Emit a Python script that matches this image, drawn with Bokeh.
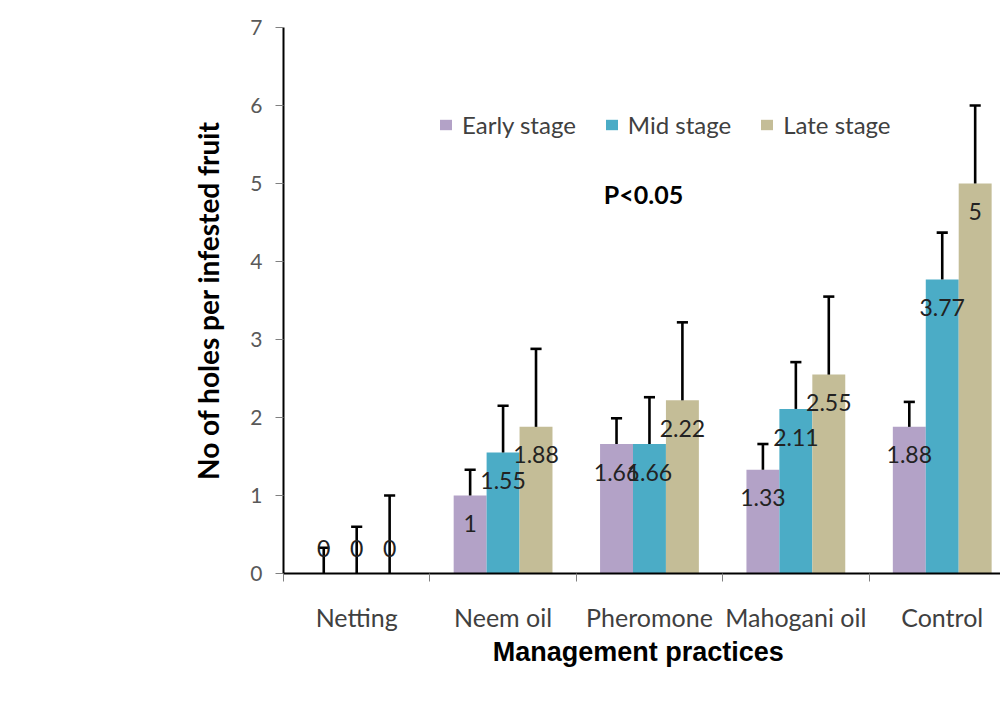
from bokeh.plotting import figure
from bokeh.models import (ColumnDataSource, FixedTicker, Label, Legend, LegendItem, Range1d)
from bokeh.embed import file_html
from bokeh.resources import INLINE
from bokeh.core.properties import value

# ---------------- data ----------------
categories = ["Netting", "Neem oil", "Pheromone", "Mahogani oil", "Control"]
series_names = ["Early stage", "Mid stage", "Late stage"]
early = [0, 1, 1.66, 1.33, 1.88]
mid = [0, 1.55, 1.66, 2.11, 3.77]
late = [0, 1.88, 2.22, 2.55, 5]
early_err = [0.33, 0.33, 0.33, 0.33, 0.32]
mid_err = [0.6, 0.6, 0.6, 0.6, 0.6]
late_err = [1.0, 1.0, 1.0, 1.0, 1.0]
colors = ["#B3A2C7", "#4BACC6", "#C4BD97"]
y_ticks = [0, 1, 2, 3, 4, 5, 6, 7]

BAR_W = 0.225
offsets = [-BAR_W, 0.0, BAR_W]

p = figure(width=1000, height=700, x_range=Range1d(-0.5, 4.398), y_range=Range1d(0, 7),
           output_backend="svg", toolbar_location=None,
           min_border_left=283, min_border_right=0, min_border_top=27, min_border_bottom=127)
p.outline_line_color = None
p.xgrid.visible = False
p.ygrid.visible = False
p.background_fill_color = "white"
p.border_fill_color = "white"

all_vals = [early, mid, late]
all_errs = [early_err, mid_err, late_err]
sources = []
for k, (vals, errs) in enumerate(zip(all_vals, all_errs)):
    xs = [i + offsets[k] for i in range(len(categories))]
    sources.append(ColumnDataSource(dict(
        x=xs, top=vals,
        etop=[v + e for v, e in zip(vals, errs)],
        cl=[x - 0.038 for x in xs], cr=[x + 0.038 for x in xs],
        ly=[(v - 0.36) if v > 0 else 0.32 for v in vals],
        lab=[format(v, "g") for v in vals],
    )))

renderers = []
for src, col in zip(sources, colors):
    r = p.vbar(x="x", top="top", width=BAR_W, bottom=0, fill_color=col, line_color=None, source=src)
    renderers.append(r)
for src in sources:
    p.segment(x0="x", y0="top", x1="x", y1="etop", line_color="black", line_width=2.6, source=src)
    p.segment(x0="cl", y0="etop", x1="cr", y1="etop", line_color="black", line_width=2.6, source=src)
for src in sources:
    p.text(x="x", y="ly", text="lab", source=src, text_align="center", text_baseline="middle",
           text_font=value("Lato"), text_font_size="23px", text_color="#222222")

# x axis
p.xaxis.ticker = FixedTicker(ticks=list(range(len(categories))),
                             minor_ticks=[i - 0.5 for i in range(len(categories))])
p.xaxis.major_label_overrides = {i: c for i, c in enumerate(categories)}
p.xaxis.major_tick_out = 0
p.xaxis.major_tick_in = 0
p.xaxis.minor_tick_out = 8
p.xaxis.minor_tick_in = 0
p.xaxis.minor_tick_line_color = "#808080"
p.xaxis.axis_line_color = "black"
p.xaxis.axis_line_width = 2
p.xaxis.major_label_text_font = "Lato"
p.xaxis.major_label_text_font_size = "25px"
p.xaxis.major_label_text_color = "#404040"
p.xaxis.major_label_standoff = 20
p.xaxis.axis_label = "Management  practices"
p.xaxis.axis_label_text_font = "Liberation Sans"
p.xaxis.axis_label_text_font_style = "bold"
p.xaxis.axis_label_text_font_size = "27px"
p.xaxis.axis_label_text_color = "black"
p.xaxis.axis_label_standoff = 2

# y axis
p.yaxis.ticker = FixedTicker(ticks=y_ticks)
p.yaxis.major_tick_out = 8
p.yaxis.major_tick_in = 0
p.yaxis.major_tick_line_color = "#808080"
p.yaxis.minor_tick_line_color = None
p.yaxis.axis_line_color = "black"
p.yaxis.axis_line_width = 2
p.yaxis.major_label_text_font = "Lato"
p.yaxis.major_label_text_font_size = "21px"
p.yaxis.major_label_text_color = "#595959"
p.yaxis.major_label_standoff = 13
p.yaxis.axis_label = "No of holes per infested fruit"
p.yaxis.axis_label_text_font = "Lato"
p.yaxis.axis_label_text_font_style = "bold"
p.yaxis.axis_label_text_font_size = "28px"
p.yaxis.axis_label_text_color = "black"
p.yaxis.axis_label_standoff = 22

p.add_layout(Label(x=1.959, y=4.87, text="P<0.05",
                   text_align="center", text_baseline="middle", text_font="Lato",
                   text_font_style="bold", text_font_size="25px", text_color="black"))

legend = Legend(items=[LegendItem(label=n, renderers=[r]) for n, r in zip(series_names, renderers)],
                orientation="horizontal", location=(155, 434),
                glyph_width=15, glyph_height=13, label_standoff=9, spacing=28,
                padding=0, margin=0, border_line_color=None, background_fill_alpha=0,
                label_text_font="Lato", label_text_font_size="24px", label_text_color="#404040")
p.add_layout(legend)

open("out.html", "w").write(file_html(p, INLINE))
